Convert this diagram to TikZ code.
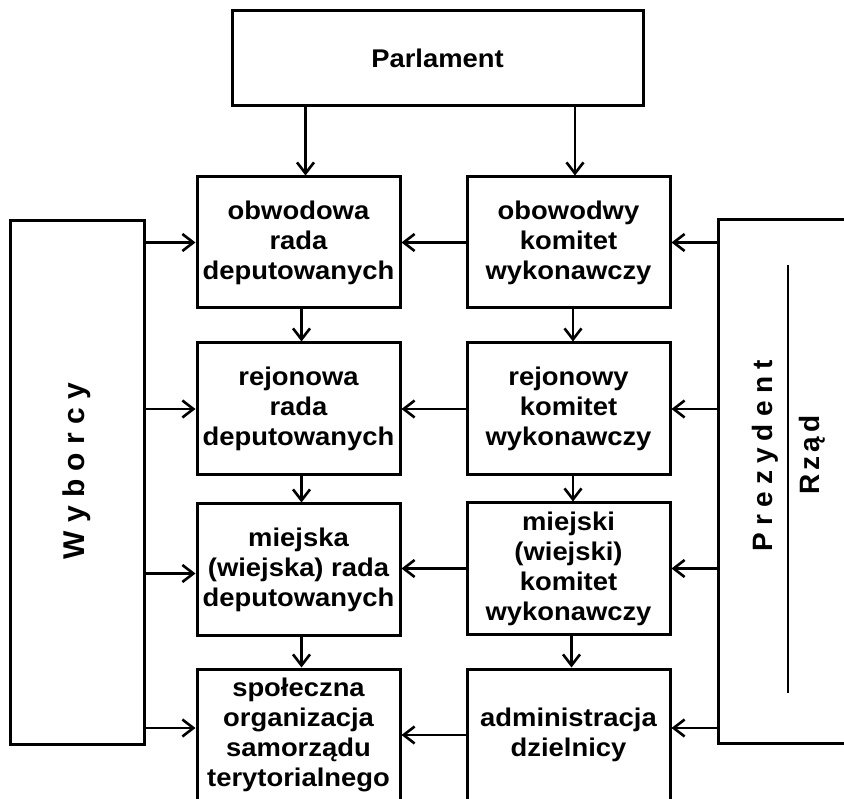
\documentclass[tikz,border=0pt]{standalone}
\usepackage{fontspec}
\setmainfont{Liberation Sans}
\newfontfamily\boxfont{Liberation Sans}[FakeStretch=1.07]
\usetikzlibrary{arrows.meta,calc}

% letter spacing used in the two side panels
\newcommand\wgap{\kern8.3pt}
\newcommand\pgap{\kern7.2pt}
\newcommand\rgap{\kern4pt}

\tikzset{
  unit/.style={draw, line width=3pt, inner sep=0pt, align=center,
    font=\boxfont\bfseries\fontsize{25.6}{30}\selectfont},
  colbox/.style={unit, minimum width=203pt, minimum height=131pt},
  arr/.style={line width=2.6pt,
    -{Straight Barb[length=11pt,width=17pt,line width=2.6pt]}},
  sidetext/.style={rotate=90, inner sep=0pt,
    font=\bfseries\fontsize{28}{30}\selectfont},
}

\begin{document}
\begin{tikzpicture}[x=1pt,y=-1pt]
  \useasboundingbox (0,0) rectangle (844,799);
  \clip (0,0) rectangle (844,799);

  % top level
  \node[unit, minimum width=411pt, minimum height=95pt] (parl) at (437.5,58.5) {Parlament};

  % councils (left column) and executive bodies (right column)
  \node[colbox] (r1l) at (298.5,242.5) {obwodowa\\rada\\deputowanych};
  \node[colbox] (r1r) at (568.5,242.5) {obowodwy\\komitet\\wykonawczy};
  \node[colbox, minimum height=132pt] (r2l) at (298.5,409) {rejonowa\\rada\\deputowanych};
  \node[colbox, minimum height=132pt] (r2r) at (568.5,409) {rejonowy\\komitet\\wykonawczy};
  \node[colbox] (r3l) at (298.5,569.5) {miejska\\(wiejska) rada\\deputowanych};
  \node[colbox] (r3r) at (568.5,568.5) {miejski\\(wiejski)\\komitet\\wykonawczy};
  \node[colbox, minimum height=132pt] (r4l) at (298.5,735) {społeczna\\organizacja\\samorządu\\terytorialnego};
  \node[colbox, minimum height=132pt] (r4r) at (568.5,735) {administracja\\dzielnicy};

  % side panels
  \node[unit, minimum width=134pt, minimum height=523pt] (wyb) at (77,482.5) {};
  \node[sidetext, font=\bfseries\fontsize{30}{32}\selectfont] (wybtxt) at (77,471)
    {W\wgap y\wgap b\wgap o\wgap r\wgap c\wgap y};

  \node[unit, minimum width=152pt, minimum height=523pt] (prez) at (794,481.5) {};
  \node[sidetext] (preztxt) at (765,456)
    {P\pgap r\pgap e\pgap z\pgap y\pgap d\pgap e\pgap n\pgap t};
  \node[sidetext] (rzadtxt) at (812,455) {R\rgap z\rgap ą\rgap d};
  \coordinate (sepa) at (788,265);
  \coordinate (sepb) at (788,693);
  \draw[line width=2pt] (sepa) -- (sepb);

  % parliament to both columns
  \draw[arr] ($(r1l.north |- parl.south)+(7,0)$) -- ($(r1l.north)+(7,0)$);
  \draw[arr] ($(r1r.north |- parl.south)+(6.5,0)$) -- ($(r1r.north)+(6.5,0)$);

  % down each column
  \draw[arr] ($(r1l.south)+(3,0)$) -- ($(r2l.north)+(3,0)$);
  \draw[arr] ($(r2l.south)+(3,0)$) -- ($(r3l.north)+(3,0)$);
  \draw[arr] ($(r3l.south)+(3,0)$) -- ($(r4l.north)+(3,0)$);
  \draw[arr] ($(r1r.south)+(4.5,0)$) -- ($(r2r.north)+(4.5,0)$);
  \draw[arr] ($(r2r.south)+(4.5,0)$) -- ($(r3r.north)+(4.5,0)$);
  \draw[arr] ($(r3r.south)+(3,0)$) -- ($(r4r.north)+(3,0)$);

  % executive bodies to councils
  \draw[arr] (r1r.west) -- (r1l.east);
  \draw[arr] (r2r.west) -- (r2l.east);
  \draw[arr] (r3r.west) -- (r3l.east |- r3r.west);
  \draw[arr] (r4r.west) -- (r4l.east);

  % voters to councils
  \draw[arr] (wyb.east |- r1l.west) -- (r1l.west);
  \draw[arr] (wyb.east |- r2l.west) -- (r2l.west);
  \draw[arr] ($(wyb.east |- r3l.west)+(0,4)$) -- ($(r3l.west)+(0,4)$);
  \draw[arr] ($(wyb.east |- r4l.west)+(0,-7)$) -- ($(r4l.west)+(0,-7)$);

  % president and government to executive bodies
  \draw[arr] (prez.west |- r1r.east) -- (r1r.east);
  \draw[arr] (prez.west |- r2r.east) -- (r2r.east);
  \draw[arr] (prez.west |- r3r.east) -- (r3r.east);
  \draw[arr] ($(prez.west |- r4r.east)+(0,-7)$) -- ($(r4r.east)+(0,-7)$);
\end{tikzpicture}
\end{document}
